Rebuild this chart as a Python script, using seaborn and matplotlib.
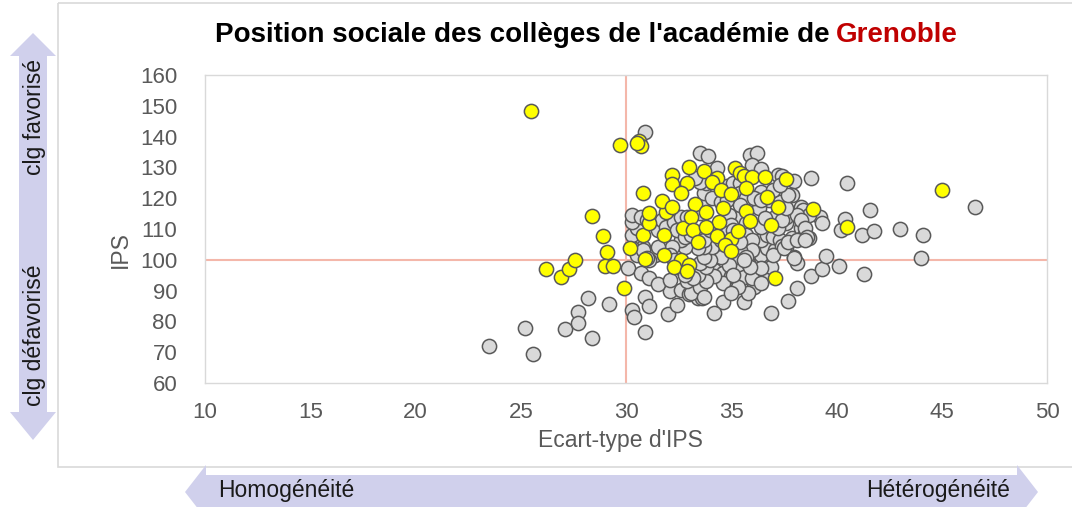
import matplotlib
matplotlib.use("Agg")
import matplotlib.pyplot as plt
from matplotlib.patches import Polygon, Rectangle
import seaborn as sns
import pandas as pd

# ---------------- data ----------------
title_main = "Position sociale des collèges de l'académie de"
title_city = "Grenoble"
x_label = "Ecart-type d'IPS"
y_label = "IPS"
x_ticks = [10, 15, 20, 25, 30, 35, 40, 45, 50]
y_ticks = [60, 70, 80, 90, 100, 110, 120, 130, 140, 150, 160]
ref_x = 30
ref_y = 100
arrow_up_text = "clg favorisé"
arrow_down_text = "clg défavorisé"
arrow_left_text = "Homogénéité"
arrow_right_text = "Hétérogénéité"

grey_x = [23.5, 25.2, 25.6, 27.1, 27.7, 27.7, 28.2, 28.4, 29.2, 30.3, 30.4, 30.9, 30.9, 31.1, 32.0, 32.1,
          32.4, 30.1, 30.7, 31.1, 31.5, 32.1, 32.6, 33.0, 33.4, 33.6, 30.9, 34.6, 34.2, 35.6, 35.6, 36.1,
          36.9, 37.7, 38.1, 38.8, 39.3, 40.1, 39.5, 38.0, 38.1, 36.4, 36.7, 37.1, 36.6, 36.9, 35.5, 35.8,
          36.1, 34.2, 34.6, 35.0, 34.6, 34.2, 35.6, 36.0, 36.4, 35.8, 35.3, 35.0, 33.4, 33.1, 32.9, 33.5,
          33.8, 32.7, 33.1, 33.4, 33.8, 33.5, 33.5, 33.9, 35.9, 36.2, 34.3, 36.0, 36.4, 37.2, 37.4, 38.0,
          38.8, 40.5, 37.9, 38.3, 38.4, 39.2, 38.7, 37.9, 37.6, 38.3, 38.4, 40.2, 40.4, 41.6, 41.2, 41.8,
          43.0, 44.1, 44.0, 46.6, 41.3, 38.7, 36.4, 36.7, 37.0, 37.3, 37.4, 37.6, 37.1, 37.6, 36.8, 37.3,
          36.4, 36.3, 35.4, 35.3, 35.7, 34.9, 35.0, 35.7, 36.0, 36.0, 35.4, 35.7, 35.1, 34.9, 34.5, 34.0,
          33.7, 34.1, 33.7, 33.4, 33.0, 32.8, 32.6, 32.2, 32.1, 32.3, 31.4, 31.1, 30.8, 30.3, 30.5, 30.3,
          30.5, 30.3, 30.3, 30.7, 31.0, 31.5, 31.7, 31.9, 32.3, 32.6, 32.9, 32.4, 32.8, 33.1, 33.5, 33.7,
          33.5, 33.6, 33.7, 33.8, 33.5, 33.3, 34.1, 34.5, 34.8, 34.8, 35.1, 35.4, 35.4, 35.7, 35.4, 34.0,
          34.5, 34.8, 35.1, 35.4, 36.4, 36.6, 37.2, 37.4, 38.1, 38.3, 38.5, 38.6, 39.3, 37.6, 37.7, 37.0,
          37.3, 36.1, 36.4, 33.7, 35.1, 36.4, 35.9, 35.6, 37.0, 37.5, 38.0, 37.7, 38.1, 38.5, 31.5, 30.8,
          31.0, 33.2, 32.8]
grey_y = [72.1, 77.8, 69.3, 77.4, 83.1, 79.6, 87.7, 74.7, 85.8, 83.7, 81.5, 76.4, 87.9, 85.0, 82.4, 89.9,
          85.3, 97.3, 95.8, 94.2, 92.2, 93.5, 90.2, 88.9, 87.5, 87.5, 141.4, 86.2, 82.7, 86.4, 91.8, 91.3,
          82.6, 86.7, 90.7, 94.7, 96.9, 98.0, 101.1, 101.0, 98.9, 101.6, 103.7, 103.2, 95.6, 97.8, 97.8, 98.8,
          96.7, 96.7, 95.6, 94.7, 92.4, 94.7, 94.5, 94.0, 92.4, 89.1, 91.3, 89.1, 91.3, 89.1, 93.0, 91.3,
          93.0, 96.7, 95.6, 95.1, 97.8, 98.8, 134.8, 133.7, 134.0, 134.6, 129.7, 130.8, 129.4, 127.5, 127.2, 125.7,
          126.4, 124.8, 121.1, 117.3, 116.2, 113.8, 107.0, 107.0, 104.3, 110.2, 107.5, 109.7, 113.1, 116.2, 108.0, 109.5,
          109.9, 108.0, 100.7, 117.0, 95.3, 114.5, 106.4, 108.0, 107.5, 106.4, 104.5, 111.8, 113.8, 114.0, 119.4, 118.9,
          122.1, 116.7, 115.1, 113.5, 111.8, 114.5, 111.3, 108.0, 106.4, 103.2, 103.2, 101.0, 100.5, 98.3, 101.0, 99.9,
          101.0, 104.3, 104.3, 103.7, 106.4, 104.3, 106.4, 104.3, 101.6, 99.9, 101.6, 99.9, 104.3, 103.7, 101.6, 108.0,
          110.2, 112.4, 114.5, 114.0, 112.9, 109.7, 112.9, 110.7, 112.4, 114.0, 114.0, 109.7, 107.5, 108.0, 108.6, 106.4,
          115.1, 118.3, 121.6, 124.8, 125.4, 126.4, 120.0, 118.9, 119.4, 123.8, 124.8, 124.8, 121.6, 120.0, 117.8, 109.7,
          106.4, 108.6, 109.7, 105.9, 110.8, 113.5, 110.2, 112.9, 114.5, 112.9, 110.2, 107.5, 111.8, 116.7, 121.1, 122.7,
          124.3, 120.0, 119.4, 88.0, 95.1, 97.2, 97.8, 99.9, 101.6, 103.7, 100.5, 105.9, 106.4, 106.4, 104.3, 103.2,
          100.5, 94.2, 95.1]

yellow_x = [25.5, 29.7, 30.6, 30.7, 30.5, 30.8, 28.4, 28.9, 29.1, 29.0, 29.4, 26.2, 26.9, 27.3, 27.6, 30.2,
            29.9, 30.9, 31.8, 30.8, 31.1, 31.1, 31.9, 31.8, 32.7, 32.6, 32.3, 33.0, 32.9, 32.2, 32.2, 33.0,
            32.9, 32.6, 31.7, 32.2, 33.3, 33.1, 33.2, 33.4, 33.7, 34.3, 34.1, 34.5, 35.0, 33.8, 34.6, 34.4,
            33.8, 34.3, 35.0, 34.7, 35.0, 35.2, 35.4, 35.6, 36.0, 35.7, 36.6, 37.6, 36.7, 37.2, 35.7, 35.9,
            35.3, 36.9, 38.9, 40.5, 37.1, 45.0]
yellow_y = [148.3, 137.3, 138.6, 137.0, 138.0, 121.8, 114.2, 107.8, 102.6, 98.0, 98.0, 97.0, 94.5, 97.0, 99.9, 103.9,
            90.9, 100.1, 101.6, 108.2, 111.8, 115.1, 115.6, 108.1, 110.4, 100.0, 97.8, 98.3, 96.3, 127.5, 124.6, 130.0,
            125.0, 121.8, 119.2, 117.3, 118.1, 114.0, 109.7, 105.9, 128.9, 126.4, 125.4, 122.7, 121.4, 115.6, 116.7, 112.4,
            110.5, 107.8, 106.6, 104.7, 102.9, 129.7, 128.3, 127.2, 127.0, 123.2, 127.0, 126.1, 120.5, 117.3, 115.8, 112.7,
            109.5, 111.3, 116.5, 110.5, 94.0, 122.7]

# ---------------- style ----------------
W, H = 1072, 507
sns.set_style("white")
plt.rcParams["font.family"] = ["Liberation Sans", "DejaVu Sans"]

GREY_TXT = "#595959"
ARROW_C = "#D0D0EC"
TXT_SIZE = 16.5
TICK_SIZE = 16

fig = plt.figure(figsize=(W / 100, H / 100), dpi=100)

# background overlay in pixel coordinates (frame + arrows)
bg = fig.add_axes([0, 0, 1, 1], zorder=0)
bg.set_xlim(0, W)
bg.set_ylim(H, 0)
bg.axis("off")
bg.add_patch(Rectangle((58, 3), W - 58 + 5, 464, fill=False, edgecolor="#D9D9D9", lw=1.2))

# vertical double arrow
cx = 33
vert = [(cx, 33), (cx + 23, 56), (cx + 14, 56), (cx + 14, 412), (cx + 23, 412), (cx, 440),
        (cx - 23, 412), (cx - 14, 412), (cx - 14, 56), (cx - 23, 56)]
bg.add_patch(Polygon(vert, closed=True, facecolor=ARROW_C, edgecolor="none"))
bg.text(cx + 1, 117, arrow_up_text, rotation=90, ha="center", va="center", fontsize=TXT_SIZE, color="#1a1a1a")
bg.text(cx + 1, 335, arrow_down_text, rotation=90, ha="center", va="center", fontsize=TXT_SIZE, color="#1a1a1a")

# horizontal double arrow
cy = 492
horiz = [(185, cy), (206, cy - 27), (206, cy - 17), (1017, cy - 17), (1017, cy - 27), (1038, cy),
         (1017, cy + 27), (1017, cy + 17), (206, cy + 17), (206, cy + 27)]
bg.add_patch(Polygon(horiz, closed=True, facecolor=ARROW_C, edgecolor="none"))
bg.text(218, 490, arrow_left_text, ha="left", va="center", fontsize=TXT_SIZE, color="#1a1a1a")
bg.text(1010, 490, arrow_right_text, ha="right", va="center", fontsize=TXT_SIZE, color="#1a1a1a")

# main axes
x0, x1, y0, y1 = 205, 1047, 75, 383
ax = fig.add_axes([x0 / W, 1 - y1 / H, (x1 - x0) / W, (y1 - y0) / H], zorder=1)
ax.set_facecolor("white")

ax.axvline(ref_x, color="#F4B7AA", lw=1.5, zorder=1)
ax.axhline(ref_y, color="#F4B7AA", lw=1.5, zorder=1)

df_g = pd.DataFrame({"x": grey_x, "y": grey_y})
df_y = pd.DataFrame({"x": yellow_x, "y": yellow_y})
sns.scatterplot(data=df_g, x="x", y="y", ax=ax, s=105, color="#D9D9D9",
                edgecolor="#595959", linewidth=1.1, zorder=2, legend=False)
sns.scatterplot(data=df_y, x="x", y="y", ax=ax, s=105, color="#FFFF00",
                edgecolor="#595959", linewidth=1.1, zorder=3, legend=False)

ax.set_xlim(x_ticks[0], x_ticks[-1])
ax.set_ylim(y_ticks[0], y_ticks[-1])
ax.set_xticks(x_ticks)
ax.set_yticks(y_ticks)
ax.tick_params(axis="both", length=0, labelsize=TICK_SIZE, labelcolor=GREY_TXT)
ax.tick_params(axis="y", pad=20)
ax.tick_params(axis="x", pad=14)
for sp in ax.spines.values():
    sp.set_color("#D9D9D9")
    sp.set_linewidth(1.0)

ax.set_xlabel(x_label, fontsize=TXT_SIZE, color=GREY_TXT, va="center")
ax.xaxis.set_label_coords((620 - x0) / (x1 - x0), (y1 - 441) / (y1 - y0))
ax.set_ylabel(y_label, fontsize=TXT_SIZE, color=GREY_TXT, va="center")
ax.yaxis.set_label_coords((120 - x0) / (x1 - x0), (y1 - 250) / (y1 - y0))

# title in two colours
t1 = bg.text(215, 35, title_main, ha="left", va="center", fontsize=20, fontweight="bold", color="black")
fig.canvas.draw()
bb = t1.get_window_extent()
bg.text(bb.x1 + 6, 35, title_city, ha="left", va="center", fontsize=20, fontweight="bold", color="#C00000")

fig.savefig("out.png", dpi=100)
